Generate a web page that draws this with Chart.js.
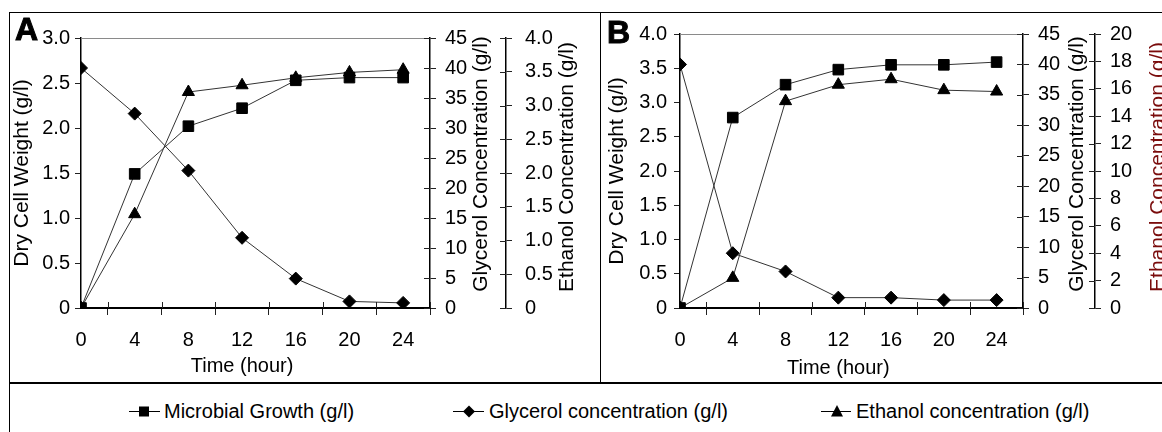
<!DOCTYPE html>
<html>
<head>
<meta charset="utf-8">
<script src="https://cdn.jsdelivr.net/npm/chart.js@4.4.1/dist/chart.umd.min.js"></script>
<style>
  body { margin: 0; background: #fff; font-family: "Liberation Sans", Arial, sans-serif; }
  #page { position: relative; width: 1162px; height: 432px; overflow: hidden; }
  .rule { position: absolute; background: #000; }
  canvas { position: absolute; }
  .tag { position: absolute; font-weight: bold; font-size: 32px; line-height: 32px; -webkit-text-stroke: 1px #000; }
  .key { position: absolute; top: 399px; height: 24px; font-size: 20px; line-height: 24px; white-space: nowrap; color: #000; }
  .key svg { position: absolute; left: 0; top: 0; }
  .key span { position: absolute; top: 0; }
</style>
</head>
<body>
<div id="page">
  <div class="rule" style="left:9px;top:12px;width:1153px;height:1px"></div>
  <div class="rule" style="left:9px;top:12px;width:1px;height:420px"></div>
  <div class="rule" style="left:600px;top:12px;width:1px;height:371px"></div>
  <div class="rule" style="left:9px;top:382px;width:1153px;height:2px"></div>

  <canvas id="chartA" width="589" height="369" style="left:10px;top:13px"></canvas>
  <canvas id="chartB" width="561" height="369" style="left:601px;top:13px"></canvas>
  <div class="tag" style="left:15px;top:13px">A</div>
  <div class="tag" style="left:607px;top:16px">B</div>

  <div class="key" style="left:129px">
    <svg width="32" height="24"><line x1="0" y1="12.5" x2="31" y2="12.5" stroke="#000" stroke-width="1"/><rect x="10" y="7.5" width="10" height="10" fill="#000"/></svg>
    <span style="left:35px">Microbial Growth (g/l)</span>
  </div>
  <div class="key" style="left:453px">
    <svg width="32" height="24"><line x1="0" y1="12.5" x2="31" y2="12.5" stroke="#000" stroke-width="1"/><polygon points="16,6.5 22,12.5 16,18.5 10,12.5" fill="#000"/></svg>
    <span style="left:36px">Glycerol concentration (g/l)</span>
  </div>
  <div class="key" style="left:821px">
    <svg width="32" height="24"><line x1="0" y1="12.5" x2="30" y2="12.5" stroke="#000" stroke-width="1"/><polygon points="16,6 22,17.5 10,17.5" fill="#000"/></svg>
    <span style="left:35px">Ethanol concentration (g/l)</span>
  </div>
</div>

<script>
// sampling times (hour)
const hours = [0, 4, 8, 12, 16, 20, 24];

// panel A
const growthA   = [0, 1.49, 2.02, 2.22, 2.53, 2.56, 2.56];
const glycerolA = [40, 32.4, 22.9, 11.7, 4.9, 1.1, 0.85];
const ethanolA  = [0, 1.39, 3.2, 3.3, 3.41, 3.49, 3.53];

// panel B
const growthB   = [0, 2.78, 3.26, 3.48, 3.55, 3.55, 3.59];
const glycerolB = [40, 9.0, 6.0, 1.7, 1.7, 1.3, 1.3];
const ethanolB  = [0, 2.2, 15.1, 16.3, 16.7, 15.9, 15.8];

// axis ranges [max, step]
const dryAxisA = [3.0, 0.5];
const dryAxisB = [4.0, 0.5];
const glycerolAxis = [45, 5];
const ethanolAxisA = [4.0, 0.5];
const ethanolAxisB = [20, 2];

Chart.defaults.font.family = '"Liberation Sans", Arial, sans-serif';
Chart.defaults.color = '#000';

const TICK = '#222';

function series(label, values, style, radius, axis) {
  return {
    label: label,
    data: hours.map((h, i) => ({ x: h, y: values[i] })),
    yAxisID: axis,
    borderColor: '#333',
    borderWidth: 1,
    pointStyle: style,
    pointRadius: radius,
    pointBackgroundColor: '#000',
    pointBorderColor: '#000',
    pointBorderWidth: 1,
    tension: 0
  };
}

// top border of plot, inner halves of crossing ticks, time + right axis titles
const extras = {
  id: 'extras',
  afterDraw(chart, args, o) {
    const ctx = chart.ctx, area = chart.chartArea;
    const xs = chart.scales.x, g = chart.scales.glycerol, e = chart.scales.ethanol;
    ctx.save();
    ctx.strokeStyle = '#8a8a8a';
    ctx.lineWidth = 1;
    ctx.beginPath();
    ctx.moveTo(area.left, area.top + 0.5);
    ctx.lineTo(area.right, area.top + 0.5);
    ctx.stroke();

    ctx.strokeStyle = TICK;
    ctx.beginPath();
    xs.ticks.forEach(t => {
      if (t.value % 4 === 2) {
        const px = Math.round(xs.getPixelForValue(t.value)) + 0.5;
        ctx.moveTo(px, area.bottom);
        ctx.lineTo(px, area.bottom - 6);
      }
    });
    [g, e].forEach(s => s.ticks.forEach(t => {
      const py = Math.round(s.getPixelForValue(t.value)) + 0.5;
      ctx.moveTo(s.left, py);
      ctx.lineTo(s.left - 6, py);
    }));
    ctx.stroke();

    ctx.textAlign = 'center';
    ctx.textBaseline = 'middle';
    ctx.fillStyle = '#000';
    ctx.font = '20px "Liberation Sans", Arial, sans-serif';
    ctx.fillText('Time (hour)', xs.getPixelForValue(12), o.timeY);

    ctx.font = '21px "Liberation Sans", Arial, sans-serif';
    ctx.save();
    ctx.translate(o.glyX, o.glyY);
    ctx.rotate(-Math.PI / 2);
    ctx.fillText('Glycerol Concentration (g/l)', 0, 0);
    ctx.restore();
    ctx.save();
    ctx.translate(o.ethX, o.ethY);
    ctx.rotate(-Math.PI / 2);
    ctx.fillStyle = o.ethColor;
    ctx.fillText('Ethanol Concentration (g/l)', 0, 0);
    ctx.restore();
    ctx.restore();
  }
};

function panel(id, p) {
  return new Chart(document.getElementById(id), {
    type: 'line',
    data: {
      datasets: [
        series('Microbial Growth (g/l)', p.growth, 'rect', 7.5, 'dry'),
        series('Glycerol concentration (g/l)', p.glycerol, 'rectRot', 6.5, 'glycerol'),
        series('Ethanol concentration (g/l)', p.ethanol, 'triangle', 7, 'ethanol')
      ]
    },
    options: {
      responsive: false,
      animation: false,
      events: [],
      layout: { padding: { top: p.top, left: 0, right: 0, bottom: 0 } },
      plugins: {
        legend: { display: false },
        tooltip: { enabled: false },
        extras: p.titles
      },
      scales: {
        x: {
          type: 'linear',
          position: 'bottom',
          min: 0,
          max: 26,
          afterFit: s => { s.height = 74; },
          ticks: {
            stepSize: 2,
            autoSkip: false,
            maxRotation: 0,
            padding: 13,
            font: { size: 20 },
            callback: v => hours.includes(v) ? String(v) : ''
          },
          grid: {
            drawOnChartArea: false,
            tickLength: 7,
            color: c => (c.tick && c.tick.value % 4 === 2) ? TICK : 'rgba(0,0,0,0)'
          },
          border: { color: '#000', width: 2 }
        },
        dry: {
          position: 'left',
          min: 0,
          max: p.dryAxis[0],
          afterFit: s => { s.width = p.leftWidth; },
          ticks: {
            stepSize: p.dryAxis[1],
            autoSkip: false,
            padding: p.leftPad,
            font: { size: 20 },
            callback: v => v === 0 ? '0' : v.toFixed(1)
          },
          grid: { drawOnChartArea: false, tickLength: 6, color: TICK },
          border: { color: '#000', width: 1.5 },
          title: {
            display: true,
            text: 'Dry Cell Weight (g/l)',
            font: { size: 21 },
            padding: { top: p.leftTitlePad, bottom: 0 }
          }
        },
        glycerol: {
          position: 'right',
          weight: 0,
          min: 0,
          max: glycerolAxis[0],
          afterFit: s => { s.width = p.glyWidth; },
          ticks: {
            stepSize: glycerolAxis[1],
            autoSkip: false,
            padding: 9,
            font: { size: 20 },
            callback: v => String(v)
          },
          grid: { drawOnChartArea: false, tickLength: 6, color: TICK },
          border: { color: '#000', width: 1.5 }
        },
        ethanol: {
          position: 'right',
          weight: 1,
          min: 0,
          max: p.ethAxis[0],
          afterFit: s => { s.width = p.ethWidth; },
          ticks: {
            stepSize: p.ethAxis[1],
            autoSkip: false,
            padding: p.ethPad,
            font: { size: 20 },
            callback: p.ethLabel
          },
          grid: { drawOnChartArea: false, tickLength: 6, color: TICK },
          border: { color: '#000', width: 1.5 }
        }
      }
    },
    plugins: [extras]
  });
}

panel('chartA', {
  growth: growthA, glycerol: glycerolA, ethanol: ethanolA,
  dryAxis: dryAxisA, ethAxis: ethanolAxisA,
  top: 15, leftWidth: 71, leftPad: 5, leftTitlePad: 0,
  glyWidth: 76, ethWidth: 93, ethPad: 13,
  ethLabel: v => v === 0 ? '0' : v.toFixed(1),
  titles: { timeY: 353, glyX: 471, glyY: 151, ethX: 557, ethY: 154, ethColor: '#000' }
});

panel('chartB', {
  growth: growthB, glycerol: glycerolB, ethanol: ethanolB,
  dryAxis: dryAxisB, ethAxis: ethanolAxisB,
  top: 16, leftWidth: 79, leftPad: 7, leftTitlePad: 4,
  glyWidth: 72, ethWidth: 67, ethPad: 9,
  ethLabel: v => String(v),
  titles: { timeY: 355, glyX: 476, glyY: 151, ethX: 557, ethY: 154, ethColor: '#7a0c0c' }
});
</script>
</body>
</html>
